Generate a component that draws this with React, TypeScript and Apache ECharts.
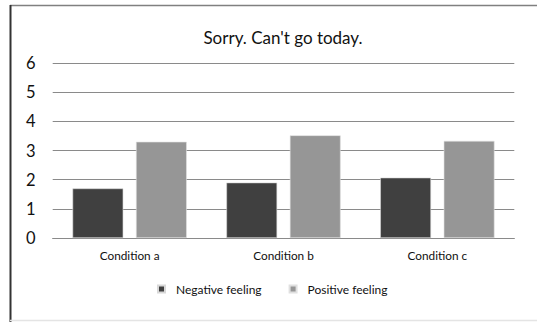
import React, { useEffect, useRef } from "react";
import * as echarts from "echarts";

const title = "Sorry. Can't go today.";
const categories = ["Condition a", "Condition b", "Condition c"];
const negativeFeeling = [1.7, 1.9, 2.07];
const positiveFeeling = [3.3, 3.52, 3.33];
const seriesNames = ["Negative feeling", "Positive feeling"];
const yTicks = { min: 0, max: 6, interval: 1 };

const FONT = "Lato, 'Open Sans', sans-serif";

export default function App() {
  const ref = useRef<HTMLDivElement>(null);

  useEffect(() => {
    if (!ref.current) return;
    const chart = echarts.init(ref.current, undefined, { renderer: "svg" });
    chart.setOption({
      animation: false,
      backgroundColor: "#ffffff",
      title: {
        text: title,
        left: 278,
        top: 24,
        textAlign: "center",
        textStyle: { fontFamily: FONT, fontSize: 17, fontWeight: "normal", color: "#111" },
      },
      legend: {
        data: seriesNames,
        left: 152,
        top: 278,
        itemWidth: 7,
        itemHeight: 7,
        itemGap: 27,
        icon: "rect",
        textStyle: { fontFamily: FONT, fontSize: 12, color: "#111", padding: [0, 0, 0, 6] },
      },
      grid: { left: 52.7, right: 22.7, top: 63, bottom: 84, containLabel: false },
      xAxis: {
        type: "category",
        data: categories,
        axisLine: { show: true, lineStyle: { color: "#8a8a8a", width: 1 } },
        axisTick: { show: false },
        axisLabel: { fontFamily: FONT, fontSize: 11.8, color: "#111", margin: 11 },
      },
      yAxis: {
        type: "value",
        min: yTicks.min,
        max: yTicks.max,
        interval: yTicks.interval,
        axisLine: { show: false },
        axisTick: { show: false },
        splitLine: { lineStyle: { color: "#8a8a8a", width: 1 } },
        axisLabel: { fontFamily: FONT, fontSize: 16.5, color: "#111", margin: 17 },
      },
      series: [
        {
          name: seriesNames[0],
          type: "bar",
          data: negativeFeeling,
          barWidth: "33%",
          barGap: "25%",
          itemStyle: { color: "#404040", borderColor: "#d8d8d8", borderWidth: 0.6 },
        },
        {
          name: seriesNames[1],
          type: "bar",
          data: positiveFeeling,
          barWidth: "33%",
          itemStyle: { color: "#969696", borderColor: "#e0e0e0", borderWidth: 0.6 },
        },
      ],
      graphic: [
        { type: "line", shape: { x1: 10, y1: 5.5, x2: 537, y2: 5.5 }, style: { stroke: "#808080", lineWidth: 1.5 } },
        { type: "line", shape: { x1: 10.5, y1: 5, x2: 10.5, y2: 322 }, style: { stroke: "#333333", lineWidth: 2 } },
        { type: "line", shape: { x1: 10, y1: 320.5, x2: 537, y2: 320.5 }, style: { stroke: "#e4e4e4", lineWidth: 1.5 } },
      ],
    });
    return () => chart.dispose();
  }, []);

  return (
    <div
      ref={ref}
      style={{ position: "absolute", left: 0, top: 0, width: 537, height: 322 }}
    />
  );
}
